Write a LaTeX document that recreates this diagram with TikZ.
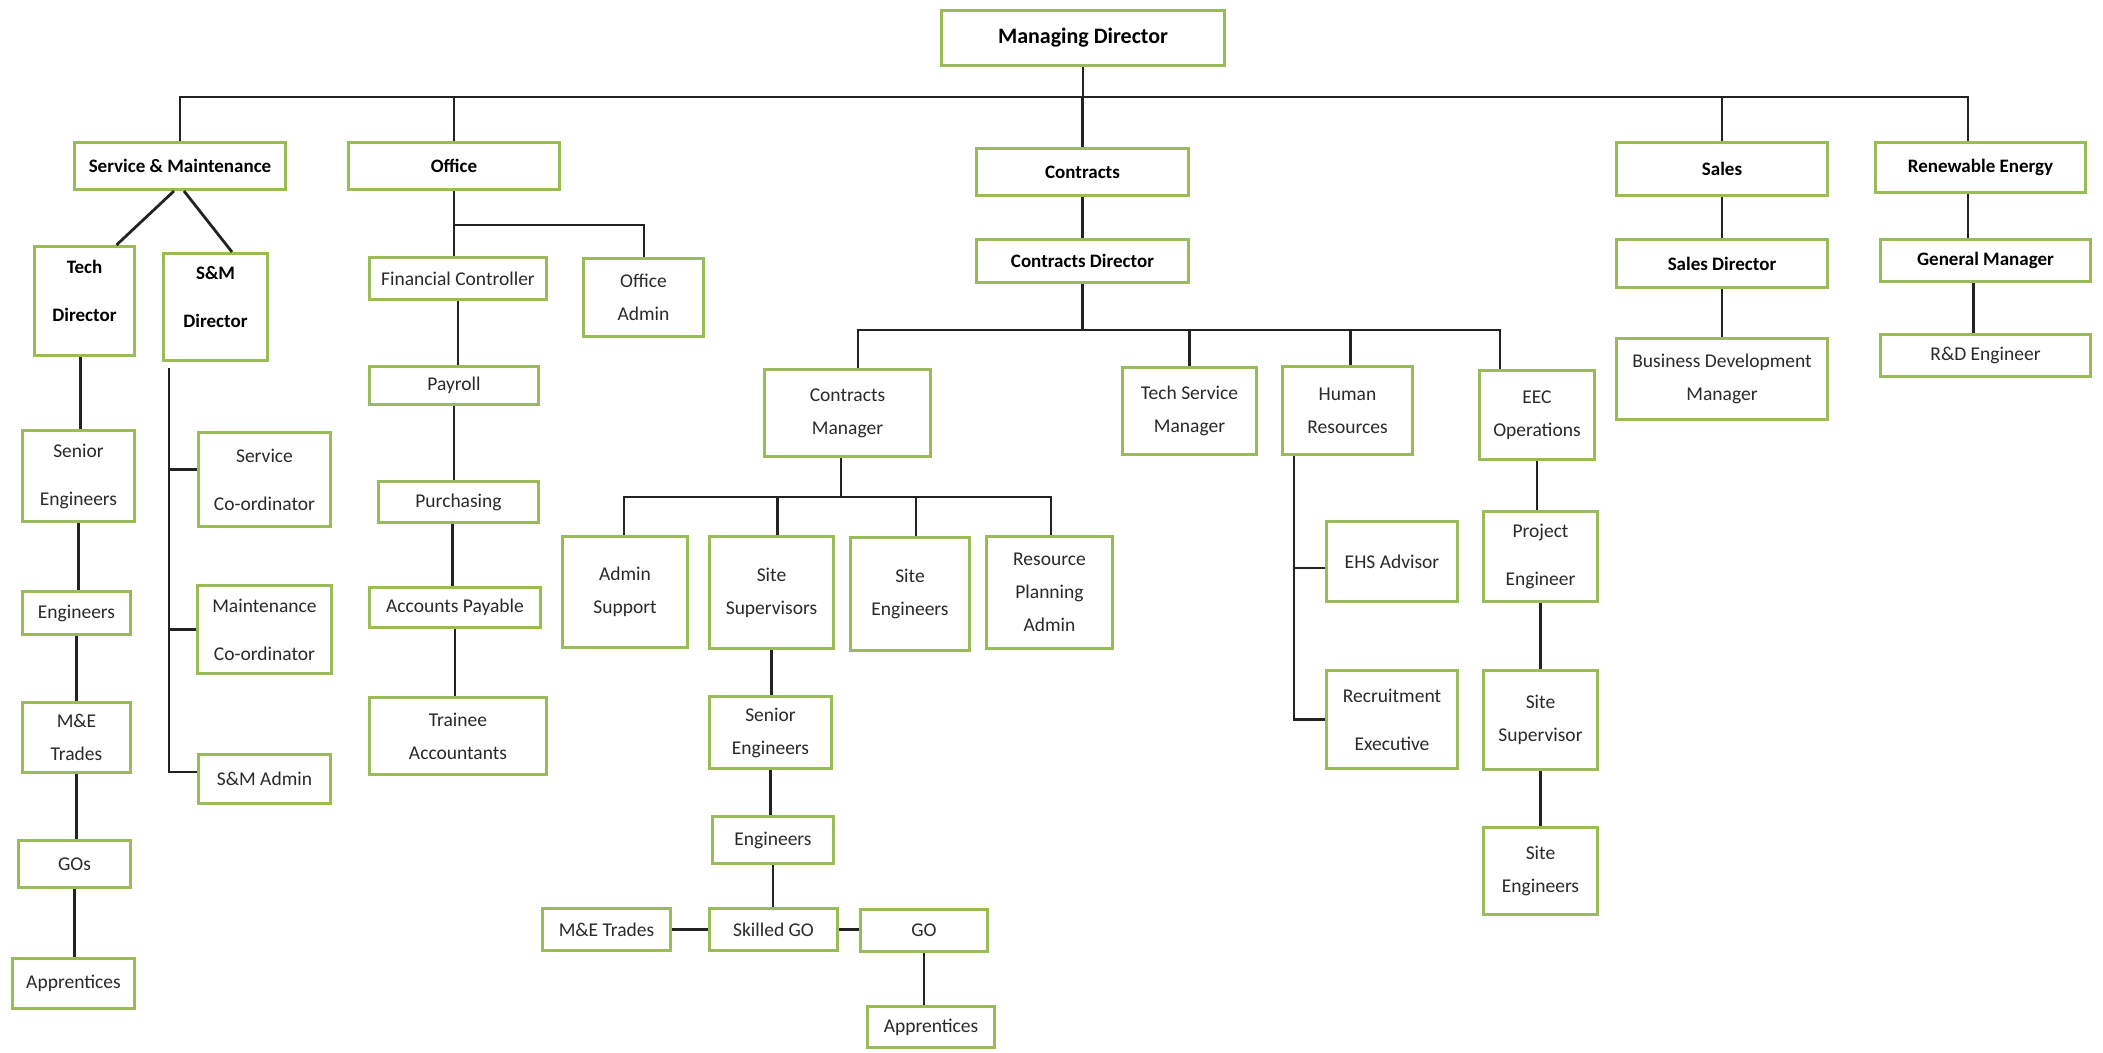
\documentclass[tikz,border=0pt]{standalone}
\usepackage{fontspec}
\setmainfont{Carlito}
\definecolor{boxgreen}{RGB}{155,187,89}
\definecolor{txtgray}{RGB}{42,42,42}
\definecolor{linec}{RGB}{35,35,35}
\newcommand{\orgbox}[7][]{\node[box,minimum width={#5-#3-2.8},minimum height={#6-#4-2.8},#1] (#2) at ({(#3+#5)/2},{(#4+#6)/2}) {#7};}
\begin{document}
\begin{tikzpicture}[x=1pt,y=-1pt,
  box/.style={draw=boxgreen,line width=2.8pt,fill=white,inner sep=0pt,align=center,
    font=\fontsize{19.5}{33}\selectfont,text=txtgray},
  bbox/.style={font=\fontsize{19}{33}\selectfont\bfseries,text=black},
  conn/.style={draw=linec,line width=2.8pt,line join=miter}]
\fill[white] (0,0) rectangle (2103,1052);
\useasboundingbox (0,0) rectangle (2103,1052);

% top level
\orgbox[bbox,font=\fontsize{22}{26}\selectfont\bfseries]{md}{940}{9}{1226}{67}{Managing Director}
\orgbox[bbox]{sm}{73}{141}{287}{191}{Service \& Maintenance}
\orgbox[bbox]{office}{347}{141}{561}{191}{Office}
\orgbox[bbox]{contracts}{975}{147}{1190}{197}{Contracts}
\orgbox[bbox]{cdir}{975}{238}{1190}{284}{Contracts Director}
\orgbox[bbox]{sales}{1615}{141}{1829}{197}{Sales}
\orgbox[bbox]{renew}{1874}{141}{2087}{194}{Renewable Energy}
\orgbox[bbox]{sdir}{1615}{238}{1829}{289}{Sales Director}
\orgbox[bbox]{gm}{1879}{238}{2092}{283}{General Manager}
\orgbox{rnd}{1879}{333}{2092}{378}{R\&D Engineer}
\orgbox{bdm}{1615}{337}{1829}{421}{Business Development\\Manager}

% service & maintenance
\orgbox[bbox]{techdir}{33}{245}{136}{357}{Tech\\[15pt]Director\\[-22pt]\strut}
\orgbox[bbox]{smdir}{162}{252}{269}{362}{S\&M\\[15pt]Director\\[-22pt]\strut}
\orgbox{seng1}{21}{429}{136}{523}{Senior\\[15pt]Engineers}
\orgbox{eng1}{21}{590}{132}{636}{Engineers}
\orgbox{me1}{21}{701}{132}{774}{M\&E\\Trades}
\orgbox{gos}{17}{839}{132}{889}{GOs}
\orgbox{app1}{11}{957}{136}{1010}{Apprentices}
\orgbox{scoord}{197}{431}{332}{528}{Service\\[15pt]Co-ordinator}
\orgbox{mcoord}{196}{584}{333}{675}{Maintenance\\[15pt]Co-ordinator}
\orgbox{smadmin}{197}{753}{332}{805}{S\&M Admin}

% office
\orgbox{fc}{368}{256}{548}{301}{Financial Controller}
\orgbox{oadmin}{582}{257}{705}{338}{Office\\Admin}
\orgbox{payroll}{368}{365}{540}{406}{Payroll}
\orgbox{purch}{377}{480}{540}{524}{Purchasing}
\orgbox{ap}{368}{586}{542}{629}{Accounts Payable}
\orgbox{trainee}{368}{696}{548}{776}{Trainee\\Accountants}

% contracts
\orgbox{cm}{763}{368}{932}{458}{Contracts\\Manager}
\orgbox{tsm}{1121}{366}{1258}{456}{Tech Service\\Manager}
\orgbox{hr}{1281}{365}{1414}{456}{Human\\Resources}
\orgbox{eec}{1478}{369}{1596}{461}{EEC\\Operations}
\orgbox{adminsup}{561}{535}{689}{649}{Admin\\Support}
\orgbox{sitesup}{708}{535}{835}{650}{Site\\Supervisors}
\orgbox{siteeng}{849}{536}{971}{652}{Site\\Engineers}
\orgbox{rpa}{985}{535}{1114}{650}{Resource\\Planning\\Admin}
\orgbox{seng2}{708}{695}{833}{770}{Senior\\Engineers}
\orgbox{eng2}{711}{815}{835}{865}{Engineers}
\orgbox{skgo}{708}{907}{839}{952}{Skilled GO}
\orgbox{me2}{541}{907}{672}{952}{M\&E Trades}
\orgbox{go}{859}{908}{989}{953}{GO}
\orgbox{app2}{866}{1005}{996}{1049}{Apprentices}
\orgbox{ehs}{1325}{520}{1459}{603}{EHS Advisor}
\orgbox{recruit}{1325}{669}{1459}{770}{Recruitment\\[15pt]Executive}
\orgbox{pe}{1482}{510}{1599}{603}{Project\\[15pt]Engineer}
\orgbox{ss}{1482}{669}{1599}{771}{Site\\Supervisor}
\orgbox{se2}{1482}{826}{1599}{916}{Site\\Engineers}

% ---------- connectors ----------
\coordinate (topR) at (1968,97);
\draw[conn] (md.south) -- (md.south |- topR);
\draw[conn] (sm.north) |- (topR) -- (renew.north -| topR);
\draw[conn] (office.north) -- (office.north |- topR);
\draw[conn] (contracts.north) -- (contracts.north |- topR);
\draw[conn] (sales.north) -- (sales.north |- topR);

\draw[conn] (contracts.south) -- (cdir.north);
\coordinate (cmj) at (858,330);
\coordinate (eecj) at (1500,330);
\draw[conn] (cdir.south) -- (cdir.south |- cmj);
\draw[conn] (cm.north -| cmj) -- (cmj) -- (eecj) -- (eecj |- eec.north);
\draw[conn] (tsm.north |- cmj) -- (tsm.north);
\draw[conn] ([xshift=3pt]hr.north |- cmj) -- ([xshift=3pt]hr.north);

\coordinate (cmb) at (841,497);
\coordinate (asj) at (624,497);
\coordinate (rpaj) at (1051,497);
\draw[conn] (cmb |- cm.south) -- (cmb);
\draw[conn] (asj |- adminsup.north) -- (asj) -- (rpaj) -- (rpaj |- rpa.north);
\draw[conn] ([xshift=6pt]sitesup.north |- asj) -- ([xshift=6pt]sitesup.north);
\draw[conn] ([xshift=6pt]siteeng.north |- asj) -- ([xshift=6pt]siteeng.north);
\draw[conn] (sitesup.south) -- (sitesup.south |- seng2.north);
\draw[conn] (seng2.south) -- (seng2.south |- eng2.north);
\draw[conn] (eng2.south) -- (eng2.south |- skgo.north);
\draw[conn] (me2.east) -- (skgo.west);
\draw[conn] (skgo.east) -- (skgo.east -| go.west);
\draw[conn] (go.south) -- (go.south |- app2.north);

\coordinate (hrt) at (1294,456);
\draw[conn] (hrt) |- (recruit.west);
\draw[conn] ([yshift=-6.5pt]ehs.west) -- ++(-31,0);
\draw[conn] (eec.south) -- (eec.south |- pe.north);
\draw[conn] (pe.south) -- (pe.south |- ss.north);
\draw[conn] (ss.south) -- (ss.south |- se2.north);

\draw[conn] (sales.south) -- (sdir.north);
\draw[conn] (sdir.south) -- (bdm.north);
\draw[conn] (renew.south -| topR) -- (gm.north -| topR);
\draw[conn] ([xshift=-12pt]gm.south) -- ([xshift=-12pt]rnd.north);

% service & maintenance
\draw[conn] ([xshift=-6pt]sm.south) -- ([xshift=32pt]techdir.north);
\draw[conn] ([xshift=4pt]sm.south) -- ([xshift=16.5pt]smdir.north);
\draw[conn] ([xshift=-4pt]techdir.south) -- ([xshift=-4pt]techdir.south |- seng1.north);
\draw[conn] (seng1.south) -- (seng1.south |- eng1.north);
\draw[conn] (eng1.south) -- (eng1.south |- me1.north);
\draw[conn] (me1.south) -- (me1.south |- gos.north);
\draw[conn] (gos.south) -- (gos.south |- app1.north);
\coordinate (smt) at (169,368);
\draw[conn] (smt) |- ([yshift=7pt]smadmin.west);
\draw[conn] ([yshift=10pt]scoord.west) -- ++(-28,0);
\draw[conn] (mcoord.west) -- ++(-27,0);

% office
\coordinate (offj) at (644,225);
\draw[conn] (office.south) -- (office.south |- fc.north);
\draw[conn] (office.south |- offj) -- (offj) -- (offj |- oadmin.north);
\draw[conn] (fc.south) -- (fc.south |- payroll.north);
\draw[conn] (payroll.south) -- (payroll.south |- purch.north);
\draw[conn] ([xshift=-6pt]purch.south) -- ([xshift=-6pt]purch.south |- ap.north);
\draw[conn] (ap.south) -- (ap.south |- trainee.north);
\end{tikzpicture}
\end{document}
